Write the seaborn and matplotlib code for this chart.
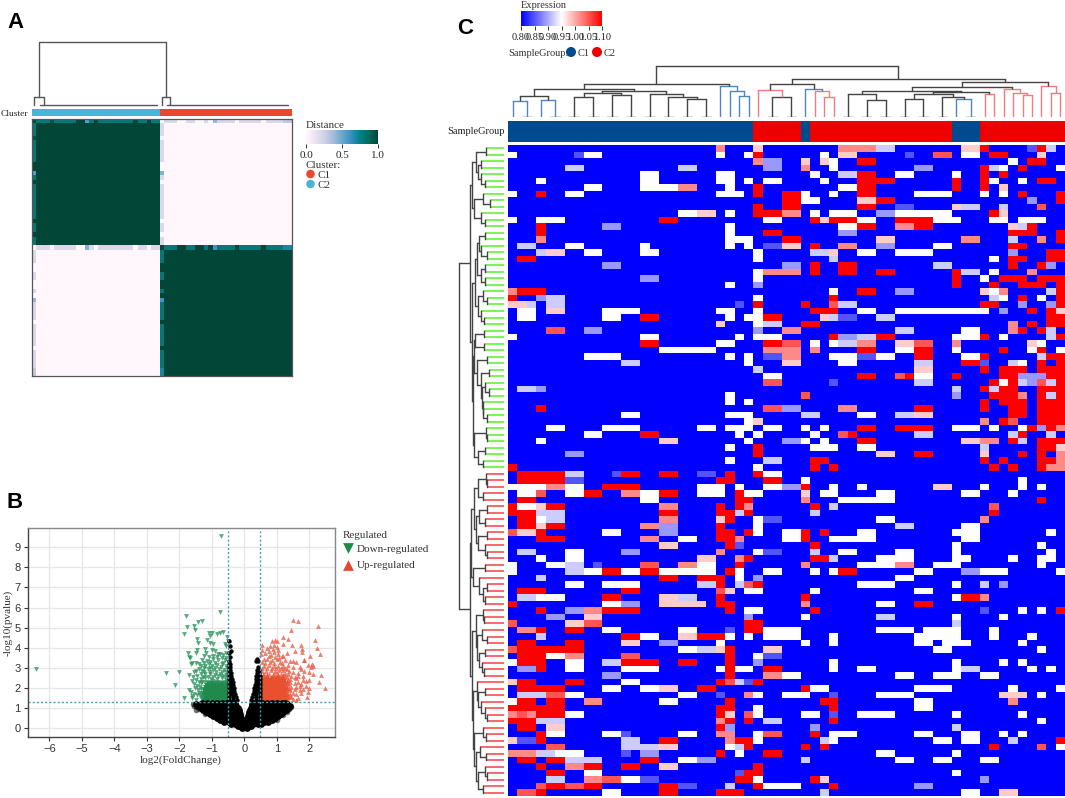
import numpy as np
import pandas as pd
import matplotlib
matplotlib.use("Agg")
import matplotlib.pyplot as plt
from matplotlib.colors import ListedColormap
import seaborn as sns

# ---- panel A: sample distance
CLUSTER_SIZES = [29, 30]
EDGE_C2 = [1, .8, .8, .8, .95, .8, .8, .8, .8, .8, 1, 1, .55, .8, 1, .8, .8, .8, .8, .8, .8, .8, .8, 1, .8, .8, 1, .8, .8]
EDGE_C1 = [1, .8, .8, .8, 1, 1, .8, .8, 1, 1, .8, 1, .6, .8, .8, .8, .8, 1, .8, .8, .8, .8, .8, 1, .8, .8, .8, .8, .7, .7]
DIST_TICKS = [0.0, 0.5, 1.0]
# sample positions of the legs and combs of the small dendrogram
A_BRACKETS = [(0.5, 2.66), (29.45, 31.4)]
A_COMBS = [(1.75, 28.4), (30.6, 58.2)]
A_HEIGHTS = [2, 10.3, 65.5]

# ---- panel B: volcano points
DOWN_CORE_Y = [1.4, 1.5, 1.6, 1.7, 1.8, 1.9, 2.0, 2.1, 2.2]
DOWN_CORE_X = [
    [-1.25, -1.13, -1.01, -0.89, -0.77, -0.65, -0.53],
    [-1.28, -1.15, -1.03, -0.91, -0.79, -0.67, -0.54],
    [-1.25, -1.13, -1.01, -0.89, -0.77, -0.65, -0.53],
    [-1.24, -1.15, -1.03, -0.91, -0.79, -0.67, -0.54],
    [-1.22, -1.13, -1.01, -0.89, -0.77, -0.65, -0.53],
    [-1.2, -1.08, -0.98, -0.88, -0.79, -0.67, -0.54],
    [-1.18, -1.05, -0.96, -0.85, -0.75, -0.65, -0.53],
    [-1.15, -1.0, -0.9, -0.8, -0.68, -0.54],
    [-1.1, -0.95, -0.82, -0.7, -0.56],
]
DOWN_X = [-0.72, -0.75, -1.79, -1.29, -1.43, -1.77, -1.55, -1.52, -1.86, -6.42, -2.42, -2.02, -2.13, -1.87,
          -1.1, -1.0, -1.05, -0.85, -0.75, -0.65, -1.45, -1.15, -1.05, -0.98, -1.42, -0.6, -0.52, -0.55, -0.5,
          -1.72, -1.7, -1.68, -1.5, -1.45, -1.2, -1.0, -0.9, -0.75, -0.65, -1.25, -1.1, -1.3, -1.4, -1.6, -1.65,
          -1.5, -1.35, -1.15, -1.05, -0.95, -0.8, -0.6, -0.55, -1.2, -1.0, -0.85, -0.7, -0.55, -1.4, -1.3, -1.12,
          -0.95, -0.78, -0.62, -1.7, -1.45, -1.35, -1.2, -1.05, -0.9, -0.75, -0.58, -1.48, -1.6, -1.35, -1.2,
          -1.02, -0.85, -0.68, -0.55, -1.45, -1.52, -1.42, -1.35, -1.65, -1.7, -1.6, -1.55, -1.45, -1.35, -1.5,
          -1.62, -1.4,
          -1.3, -1.2, -1.08, -0.98, -0.88, -0.78, -0.62, -0.52, -1.28, -1.12, -0.95, -0.8, -0.7, -0.6, -0.5,
          -1.25, -1.05, -0.88, -0.7, -0.55, -1.5, -1.25, -1.05, -0.9, -0.72, -0.52, -0.65, -0.9, -1.1, -1.25,
          -0.5, -0.7, -0.85, -0.98, -1.18, -0.82, -0.55, -1.55, -1.58, -1.4, -1.55, -1.38, -1.32, -1.38, -1.32, -1.3]
DOWN_Y = [9.57, 5.8, 5.6, 5.31, 5.28, 5.02, 5.07, 4.9, 4.7, 2.95, 2.75, 2.78, 2.17, 1.52,
          4.75, 4.75, 4.6, 4.7, 4.75, 4.8, 4.45, 4.4, 4.25, 4.2, 4.25, 4.2, 4.55, 4.1, 4.35,
          3.75, 3.55, 3.5, 3.75, 3.9, 3.95, 3.9, 3.85, 3.7, 3.65, 3.6, 3.55, 3.4, 3.2, 3.25, 3.2,
          3.25, 3.1, 3.35, 3.3, 3.45, 3.4, 3.4, 3.5, 3.1, 3.1, 3.15, 3.2, 3.1, 2.95, 2.85, 2.95,
          2.9, 2.95, 2.9, 2.65, 2.6, 2.7, 2.7, 2.7, 2.65, 2.7, 2.65, 2.4, 2.35, 2.45, 2.5,
          2.45, 2.45, 2.5, 2.4, 2.1, 2.0, 1.9, 2.25, 1.8, 1.9, 1.6, 1.7, 1.65, 1.5, 1.42,
          1.5, 1.75,
          2.3, 2.3, 2.3, 2.35, 2.3, 2.32, 2.32, 2.3, 2.55, 2.55, 2.55, 2.58, 2.6, 2.55, 2.55,
          2.8, 2.82, 2.8, 2.82, 2.8, 2.85, 3.0, 3.0, 3.0, 3.05, 3.0, 3.25, 3.25, 3.2, 3.25,
          3.3, 3.5, 3.55, 3.6, 3.75, 3.7, 3.75, 2.8, 2.55, 2.3, 2.2, 2.05, 1.95, 1.65, 1.75, 1.55]

UP_CORE_Y = [1.4, 1.5, 1.6, 1.7, 1.8, 1.9, 2.0, 2.1, 2.2, 2.3, 2.4, 2.5, 2.6]
UP_CORE_X = [
    [0.56, 0.68, 0.8, 0.92, 1.04, 1.16, 1.28],
    [0.54, 0.66, 0.78, 0.9, 1.02, 1.14, 1.26],
    [0.56, 0.68, 0.8, 0.92, 1.04, 1.16, 1.3],
    [0.54, 0.66, 0.78, 0.9, 1.02, 1.14, 1.26],
    [0.56, 0.68, 0.8, 0.92, 1.04, 1.16, 1.28],
    [0.54, 0.66, 0.78, 0.9, 1.02, 1.14, 1.25],
    [0.56, 0.68, 0.8, 0.92, 1.04, 1.16, 1.3],
    [0.54, 0.66, 0.78, 0.9, 1.02, 1.14, 1.24],
    [0.56, 0.68, 0.8, 0.92, 1.04, 1.18],
    [0.54, 0.66, 0.78, 0.9, 1.02, 1.15, 1.3],
    [0.56, 0.68, 0.8, 0.95, 1.1, 1.22],
    [0.54, 0.66, 0.82, 0.98, 1.12],
    [0.56, 0.7, 0.88, 1.05, 1.2],
]
UP_X = [1.49, 1.64, 2.26, 1.45, 2.19, 2.23, 2.33, 2.02, 1.84, 2.48, 2.36, 2.31, 2.12, 2.07,
        0.55, 0.55, 0.52, 0.7, 0.8, 0.85, 0.95, 1.0, 0.9, 1.0, 1.2, 1.18, 1.35, 1.48, 1.75, 1.78, 1.78, 1.55,
        1.3, 1.15, 1.05, 0.9, 0.75, 0.6, 0.85, 1.0, 1.1, 1.25, 1.4, 1.5, 1.6, 1.85, 1.95, 2.05, 2.1, 1.7, 1.5,
        1.35, 1.2, 1.05, 0.9, 0.75, 0.6, 1.98, 1.85, 1.65, 1.5, 1.38, 1.8, 1.6, 1.45, 1.35, 2.0, 1.9, 1.75, 1.55,
        1.42, 2.0, 1.8, 1.7, 1.55, 1.45, 1.95, 1.75, 1.6, 1.5, 1.4, 1.92, 1.65, 1.5, 1.4, 1.35, 1.6,
        1.35, 1.42, 1.3, 1.25, 0.62, 0.75, 0.9, 1.0, 1.12, 1.25, 0.55, 0.68, 0.82, 0.95, 1.08, 1.2, 1.3,
        0.55, 0.7, 0.85, 0.98, 1.12, 1.25, 0.65, 0.78, 0.92, 1.15, 0.55, 0.7, 0.93, 1.08, 0.82, 1.2, 0.65,
        0.88, 0.75, 1.05, 1.65, 1.7, 1.35, 1.38, 1.32, 1.42, 1.45, 1.8, 1.6, 1.9, 1.55, 1.65, 1.75]
UP_Y = [5.4, 5.35, 5.07, 4.87, 4.4, 3.97, 3.71, 3.6, 3.41, 2.0, 2.63, 2.3, 2.7, 3.2,
        4.15, 3.9, 3.7, 4.0, 4.1, 4.35, 4.4, 4.35, 4.15, 4.05, 4.2, 4.55, 4.45, 4.15, 4.15, 3.95, 3.8, 3.85,
        3.75, 3.6, 3.7, 3.8, 3.6, 3.45, 3.4, 3.45, 3.3, 3.4, 3.35, 3.35, 3.3, 3.4, 3.15, 3.05, 3.1, 3.05, 3.05,
        3.15, 3.1, 3.1, 3.1, 3.15, 3.1, 2.8, 2.85, 2.75, 2.8, 2.85, 2.6, 2.5, 2.6, 2.7, 2.4, 2.35, 2.2, 2.25,
        2.3, 2.0, 1.95, 1.9, 1.95, 2.05, 1.8, 1.75, 1.7, 1.75, 1.9, 1.55, 1.5, 1.45, 1.6, 1.4, 1.4,
        2.4, 2.45, 2.55, 2.62, 2.7, 2.72, 2.7, 2.75, 2.72, 2.75, 2.85, 2.85, 2.88, 2.85, 2.9, 2.88, 2.95,
        3.0, 3.0, 3.0, 2.98, 3.0, 3.0, 3.25, 3.3, 3.25, 3.25, 3.3, 3.45, 3.55, 3.5, 3.65, 3.6, 3.75,
        3.95, 3.85, 3.9, 2.3, 2.1, 2.2, 2.0, 1.8, 1.72, 1.55, 2.4, 2.05, 2.1, 2.55, 2.6, 2.95]

NS_ROW_Y = [0.0, 0.1, 0.2, 0.3, 0.4, 0.5, 0.6, 0.7, 0.8, 0.9, 1.0, 1.1, 1.2, 1.28]
NS_ROW_X = [
    [-0.08, 0.08],
    [-0.2, -0.07, 0.07, 0.22],
    [-0.42, -0.28, -0.14, 0, 0.14, 0.28, 0.42, 0.52],
    [-0.62, -0.48, -0.32, -0.16, 0, 0.16, 0.32, 0.48, 0.62, 0.72],
    [-0.75, -0.6, -0.45, -0.3, -0.15, 0, 0.15, 0.3, 0.45, 0.6, 0.72, 0.84],
    [-0.85, -0.7, -0.55, -0.4, -0.25, -0.1, 0.1, 0.25, 0.4, 0.55, 0.7, 0.85, 0.95],
    [-0.95, -0.8, -0.65, -0.5, -0.35, -0.2, -0.12, 0.12, 0.2, 0.35, 0.5, 0.65, 0.8, 0.95, 1.05],
    [-1.05, -0.9, -0.75, -0.6, -0.45, -0.3, -0.14, 0.14, 0.3, 0.45, 0.6, 0.75, 0.9, 1.02, 1.12],
    [-1.17, -1.0, -0.85, -0.7, -0.55, -0.4, -0.25, -0.15, 0.15, 0.25, 0.4, 0.55, 0.7, 0.85, 1.0, 1.1, 1.2],
    [-1.27, -1.1, -0.95, -0.8, -0.65, -0.5, -0.35, -0.18, 0.18, 0.35, 0.5, 0.65, 0.8, 0.95, 1.1, 1.27],
    [-1.35, -1.2, -1.05, -0.9, -0.75, -0.6, -0.45, -0.3, -0.2, 0.2, 0.3, 0.45, 0.6, 0.75, 0.9, 1.05, 1.2, 1.33],
    [-1.45, -1.3, -1.15, -1.0, -0.85, -0.7, -0.55, -0.4, -0.25, 0.25, 0.4, 0.55, 0.7, 0.85, 1.0, 1.15, 1.3, 1.42],
    [-1.5, -1.35, -1.2, -1.05, -0.9, -0.75, -0.6, -0.45, -0.3, 0.25, 0.4, 0.55, 0.7, 0.85, 1.0, 1.15, 1.3],
    [-1.3, -1.15, -1.0, -0.85, -0.7, -0.55, -0.4, -0.28, 0.28, 0.4, 0.55, 0.7, 0.85, 1.0, 1.15, 1.25],
]
# the two narrow arms of the V above the p cut
NS_ARM_Y = [1.4, 1.55, 1.7, 1.85, 2.0, 2.15, 2.3, 2.45, 2.6, 2.75, 2.9, 3.05, 3.2, 3.35, 3.42, 3.55, 3.75, 3.85, 4.1, 4.35]
NS_ARM_X = [
    [-0.47, -0.36, -0.24, 0.47, 0.36, 0.22],
    [-0.47, -0.36, -0.27, 0.47, 0.36, 0.25],
    [-0.47, -0.38, -0.29, 0.47, 0.37, 0.27],
    [-0.47, -0.39, -0.31, 0.47, 0.38, 0.29],
    [-0.47, -0.4, -0.33, 0.47, 0.39, 0.31],
    [-0.47, -0.4, -0.34, 0.47, 0.4, 0.33],
    [-0.47, -0.41, -0.36, 0.47, 0.41, 0.35],
    [-0.47, -0.41, -0.37, 0.47, 0.41, 0.36],
    [-0.47, -0.42, 0.47, 0.41, 0.37],
    [-0.47, -0.42, 0.46, 0.4],
    [-0.47, -0.43, 0.44, 0.39],
    [-0.47, -0.44, 0.43],
    [-0.47, -0.44],
    [-0.46, 0.42, 0.37],
    [0.38],
    [-0.45],
    [-0.47],
    [-0.42],
    [-0.45],
    [-0.47],
]
NS_LOOSE_X = [-1.55, -1.4, -1.5, -1.2, -1.58, 1.45, 1.3, 1.0, 0.95, 1.2, 1.38]
NS_LOOSE_Y = [1.1, 0.95, 0.9, 0.7, 1.2, 1.05, 0.8, 0.42, 0.45, 0.65, 0.95]

VOLCANO_XTICKS = [-6, -5, -4, -3, -2, -1, 0, 1, 2]
VOLCANO_YTICKS = [0, 1, 2, 3, 4, 5, 6, 7, 8, 9]
LFC_CUTS = [-0.49, 0.49]
P_CUT = 1.3

# ---- panel C: expression heatmap, one string per gene, cells not listed are 0.80
CELL_VALUES = {"r": 1.10, "o": 1.05, "p": 1.02, "q": 0.98, "w": 0.95, "l": 0.92, "m": 0.89, "n": 0.85}
N_SAMPLES = 59
HEAT_ROWS = [
    "22p 26q 35-36p 37-38p 39-40l 48-49q 50r 55n 56r 57l",
    "0w 7n 8-9w 22w 25w 26r 33w 35-36q 42n 45-46o 48-49w 51-52r 56q",
    "26p 27-28m 31q 33q 34w 37-38r 53w 55-56r",
    "6-7l 18-19l 27-28m 31p 34w 43-44m 50r 51l 52w 54r 58w",
    "14-15w 22-23w 32w 35-36l 37-38r 41-42w 47w 50r 52r",
    "3w 14-15w 22-23w 25w 27-28w 33w 37-40r 47r 50r 51w 54w 56-57r",
    "8-9w 14-17w 18-19p 23w 26r 35-36w 37-38r 47r 50r 52q",
    "0w 3r 6-7w 22-24w 26r 29-30r 31w 34w 37-38r 43-46w 50w 52w 54r 58r",
    "29-30r 31-32w 37-38q 39-40r 55m 58r",
    "26r 29-30r 37-38r 41-42n 47q 48-49l 52l 56o",
    "18-19w 20-21q 23w 26-28r 29-30p 32w 34-36w 39-40m 41-46w 51r 52q",
    "0w 3-5w 16-17r 27-28w 32r 33q 34-36r 37-38w 41-44r 45-47w 51-52w 54-56w",
    "3r 10-11m 23w 35-36w 37-38r 41-42p 43-44r 53q 54l 55r",
    "3r 23w 27-28r 35-36m 53-55r 58r",
    "3p 23-25w 29-30r 39-40q 48-49p 53l 56p 58r",
    "1-2l 6-7w 14w 23w 25w 27-28n 29-30q 32r 35-36p 39-40m 45-46w 53-54r",
    "3l 4-5q 8-9w 14-15w 26w 32-33l 34q 37-38w 41-44w 53m 57-58r",
    "1-2r 26w 34l 51w 53-54r 57-58r",
    "10-11m 29-30m 32r 35-36r 45-46l 53r 56r 57m",
    "26w 27-30p 32r 35-36r 39-40r 47r 48-49l 51w 55p",
    "14-15m 26w 47r 50w 52-54r 56-58r",
    "23w 26m 47r 51r 54-56r 58r",
    "0p 1-3r 34w 37-38r 41-42m 50q 51w 52p 57l 58r",
    "0r 3m 4-5l 26w 34r 51l 52w 54r 56w 58r",
    "0-1q 2l 4-5l 24n 26r 31r 34o 35-36l 50-51r 54m 57m 58r",
    "1-2w 4-5q 10-13w 22-23w 26w 32-34r 37-38w 41-50w 52m 55r 57r 58q",
    "1-2w 10-11w 14-15r 23w 25-26w 27-28r 33q 34l 35-36n 39-40l 57-58r",
    "22q 26w 27-28l 31-32r 53p 55r 57-58r",
    "4-5o 8-9m 26m 29-30p 41-42l 48-49w 53p 54r 56r 57l",
    "0w 14-15w 24w 26-28w 34r 35-36m 37-38l 39-40r 47-49w 50r 52w 57l 58r",
    "14-15r 22-23w 27-28r 29-30o 32w 34w 35-36l 37-38p 41-42q 43-44o 47p 55q 56w",
    "16-21w 27-28p 29-30p 32p 37-38r 41-42w 43-44r 47w 52r 55w 56r 58w",
    "8-11w 23w 25w 27-28n 29-30p 34-36w 37-38n 39-40w 43-44r 48-49w 50r 56l 57-58r",
    "12-13l 25w 29-30q 35-36w 43-44l 48-49r 50n 53l 54w 56r 58r",
    "26l 43-44q 50r 52-54r 56-58r",
    "27-28w 37-38r 41o 42r 43-44w 47r 52-53r 54-56m 57-58r",
    "27-28o 34n 43-44l 51r 52w 53r 54l 55m 56o 57l 58r",
    "1-2l 3m 47l 50r 51l 52-53r 56-58r",
    "23w 31o 47m 51-53r 54p 56r 57l 58r",
    "23w 25w 50r 52-54r 56-58r",
    "3r 27-28o 29-30m 35-36p 43-44r 50r 53-54r 56-58r",
    "12-13w 23-25w 31-32l 37-38w 41-42l 43-44q 53-54r 56-58r",
    "25w 26q 50p 52r 53o 56-58r",
    "4-5w 10-13w 20-21w 23-25w 27-28w 31w 33w 37-38r 41-44r 47-49w 51w 54w 55r 56m 57r 58p",
    "8-9w 14-15r 24w 26w 32w 35o 36r 43-44l 53l 54r 57l",
    "3w 16-17q 25w 29-30m 31w 33w 37-38r 48-49q 50-51p 53r 54l 56-58r",
    "23w 26r 32-34w 37-38w 50l 56-57r 58q",
    "6-7m 26r 39-40q 43-44r 50q 54r 56r 58p",
    "23w 27-28l 32-33r 50r 52r 56-57r 58p",
    "0r 26w 32r 34r 51r 53r 56r 57p 58p",
    "1-5r 6-7l 11n 12-13r 16-17r 20-21n 23r 26r 27-28w",
    "1-5r 6-7n 22-23r 27-28r 31w 54w",
    "0-3w 4-5p 6-7w 10-13r 20-22w 24w 27-28w 29-30m 31r 34w 37w 45-46q 50w 54w 56w",
    "1-2w 3o 6-7w 8-9r 12-13p 14-15w 16-17r 20-22w 24r 25-26w 31q 33-34w 39-40w 48-49w 53w",
    "1-2r 14-15w 24-25r 31p 35-40w 56r",
    "0r 1-2w 3q 4-5r 16-17p 22r 24r 25p 32r 34l 51o",
    "0-2r 3-5l 16-17r 22-23r 24l 25r 32l 51r",
    "1-2r 3w 4-5l 16-17p 22q 23r 26w 27-28n 39-40w 50p",
    "1-2r 3q 4-5r 14-15p 16-17m 22r 26w 41-42l 48-49w",
    "0o 1-2q 3r 10-11w 16-17m 22-23r 25r 26w 29-30w 31r 33r 37-38w 47-49w 57w",
    "3-5r 14-15p 18-19w 22-23r 24p 29-30w 31r 34-38w 48-49w",
    "16-17q 23r 24n 32r 47w 56w",
    "1-2l 6-7w 12-13m 22p 26w 27-28n 32l 35-36w 41-42w 47w 57w",
    "3w 6-7w 20-21q 24p 25r 32-33r 34l 39-42w 47-48w 53w 56w 57w",
    "0w 4-5w 6-7l 9n 14-15o 18-19p 20-21w 24r 31p 37-40w 41-42p 45-47w 56w",
    "0w 6-7l 8-9w 10-11r 12-13w 14-15r 16-21w 23r 24w 27-28w 32w 34w 35-36r 43-44w 48-49m 50-52w 58w",
    "3l 16-17r 20-22r 24w 26m 41-42w",
    "6-7w 10-13w 20-21l 22r 24l 25o 26r 37-40w 47w 50l 52m",
    "1-3r 12-13r 22o 23q 25-26w 32w 43-44w",
    "1-2l 3-5w 10-11r 16-17q 18-19l 22r 31r 47w 48-49r 50p",
    "0r 10-11w 12-13m 16-20q 22-23r 31p 39-40w 43-44r",
    "3r 6-7m 8-9p 10-13r 23r 25-26w 32r 50n 54w 56w 58r",
    "4-5m 8-9q 25m 31w 39-40l 47w 52w",
    "0o 6-7q 8-9o 25-26r 47l",
    "1-2p 3r 6-7r 10-11w 18-19w 23n 25-26r 27-30w 39-42w 44-47w 51w",
    "3l 12-13r 14-15w 18-19q 20-22r 23w 25w 27-30w 34w 43-47w 51w 55w",
    "1-2r 6-7r 12-13q 16-17m 22w 31w 34w 43-44w 46-48w 54w",
    "0o 1-7r 18-19w 20-21l 22q 23r 27-28q 45-46w 56w",
    "1-3r 4-5w 6-7p 12-13o 23r 26w 27-28n",
    "0w 1-3r 6-7w 10-11l 12-15r 18-19r 23r 26m 34w 47w 52w 54w",
    "1-2m 3r 6-7w 12-15w 22w 23r 24-25w 27-28r 34w 37-38w 47w 48-49l 55w 57w",
    "10-11m 23r 27-28p 29-30w 41-42w 45-47w 50-51w",
    "0q 1-2r 6-7r 12-13w 22r 23o 24l 25n 26r",
    "1-5r 10-11w 14-15w 16-17q 20-21r 31r 32-33w 43-46w 53w 58w",
    "1-3l 4-5o 6-7w 18-19w 22n 25p 26w 29-31w 34n 39-42w 52-54q 56w",
    "0w 1-2r 4-5r 8-9p 16-17w 23r 33-34r 43-44w 53p",
    "0-5r 22-23r 26w 34r 43-44w",
    "0p 1o 2p 3-5r 6-7w 22r 23q 25o 26w 31-32w 34n 37-40w 47w 54w",
    "0-2r 3-5l 22p 23r 25r 27-28l 34r 56w",
    "1-2r 4-5q 22r 23m 32m 47l",
    "3r 4-5w 10-11w 12n 18-19w 22-23p 26w 27-28o 32r 34-36w 43-44w 48-49w 52w 54w",
    "0q 1-2n 3r 12-13l 16-17r 23p 24-25r 26w 33l 34w 45-46w 48-49w 53l 58r",
    "4-5o 12-15l 16-17q 23w 24l 25r 31r 33r 51r 56o 58w",
    "0-2p 3-4l 5-7w 12n 14-15m 22r 24w 27-28r 39-40w 47w",
    "1-2r 4-5r 6-9l 14-15r 18-19w 20-21m 31l 41-42w 45-46w 50-51w",
    "3r 6-7p 8-9r 12-13r 16-17q 26r",
    "4-5r 8-9w 24n 25-26r 47w",
    "4-5l 8-9p 10-11o 12-13w 14-15n 24-25r 26w 32r 33q 50m",
    "3o 4-5r 6-7o 8-9r 16-17r 18-19n 23l 26r 27-30w 34r 43-44m",
    "1-2o 3r 10-11w 16-17r 22-24r 33l 48-49w 52-53q",
]
# 0 = C1, 1 = C2, as runs over the sample order
GROUP_RUNS = [(26, 0), (5, 1), (1, 0), (15, 1), (3, 0), (9, 1)]
EXPR_TICKS = [0.80, 0.85, 0.90, 0.95, 1.00, 1.05, 1.10]

# dendrograms as nested (height, left, right); an int is a leaf
SAMPLE_TREE = (155,
    (100,
        (84,
            (64, (50, 0, (2, 1, 2)), (52, 3, (2, 4, 5))),
            (80,
                (74, (60, (2, 6, 7), (2, 8, 9)), (67, (2, 10, 11), (2, 12, 13))),
                (71, (2, 14, 15), (62, (2, 16, 17), (56, (2, 18, 19), (2, 20, 21)))))),
        (94, 22, (80, 23, (65, 24, 25)))),
    (115,
        (100,
            (82, 26, (60, (2, 27, 28), (2, 29, 30))),
            (86, 31, (79, 32, (60, 33, 34)))),
        (105,
            (90,
                (80,
                    (69, (2, 35, 36), (52, (2, 37, 38), (2, 39, 40))),
                    (77,
                        (69,
                            (56, (2, 41, 42), (2, 43, 44)),
                            (61, (2, 45, 46), (54, 47, (2, 48, 49)))),
                        (69, 50, 51))),
                (84, 52, (74, 53, (67, 54, 55)))),
            (94, 56, (74, 57, 58)))))

GENE_TREE = (135,
    (102,
        (95,
            (84, (55, 0, 1), (77, (69, 2, 3), (69, 4, (57, 5, 6)))),
            (89, (63, 7, (43, 8, 9)), (69, 10, (57, 11, 12)))),
        (97,
            (87,
                (82,
                    (75, (57, 13, 14), (69, 15, (50, 16, 17))),
                    (69, (57, 18, 19), (57, 20, 21))),
                (79, (64, 22, (50, 23, 24)), (69, 25, (59, 26, 27)))),
            (92,
                (89,
                    (87, (59, 28, 29), (59, 30, 31)),
                    (82,
                        (50, 32, 33),
                        (69,
                            (44, 34, 35),
                            (67, (57, 36, (44, 37, 38)), (64, 39, (62, 40, (52, 41, 42))))))),
                (90,
                    (54, 43, (52, 44, 45)),
                    (79, (57, 46, 47), (64, 48, 49)))))),
    (102,
        (100,
            (90,
                (79, (55, 50, (50, 51, 52)), (62, 53, 54)),
                (85,
                    (75, (50, 55, 56), (57, 57, 58)),
                    (79, (50, 59, 60), (57, 61, (50, 62, 63))))),
            (94, (57, 64, 65), (74, 66, (64, (50, 67, 68), (57, 69, 70))))),
        (97,
            (85,
                (64, 71, (59, 72, 73)),
                (82,
                    (65, 74, (50, 75, 76)),
                    (75, (57, 77, 78), (67, 79, (59, 80, 81))))),
            (92,
                (82, 82, (77, (57, 83, 84), (70, 85, (57, 86, (50, 87, 88))))),
                (90,
                    (64, 89, (55, 90, 91)),
                    (85,
                        (72, 92, (55, 93, 94)),
                        (79, (57, 95, (52, 96, 97)), (64, 98, 99))))))))

W, H = 1065, 798
SERIF = ["Liberation Serif", "DejaVu Serif"]
SANS = ["Liberation Sans", "DejaVu Sans"]
C1_BLUE, C2_RED = "#004b8d", "#ee0000"
TREE_GRAY = "#444444"


def box(fig, left, top, right, bottom):
    # 画像のピクセル座標で軸を置く
    return fig.add_axes([left / W, 1 - bottom / H, (right - left) / W, (bottom - top) / H])


def parse_rows(rows):
    mat = np.full((len(rows), N_SAMPLES), 0.80)
    for i, row in enumerate(rows):
        for tok in row.split():
            code = tok[-1]
            span = tok[:-1].split("-")
            mat[i, int(span[0]):int(span[-1]) + 1] = CELL_VALUES[code]
    return mat


def draw_tree(ax, node, stem_color, tint_merge=False, vertical=True, lw=0.9, stem_lw=None):
    # returns position and height of a node
    if isinstance(node, int):
        return node + 0.5, 0
    h, left, right = node
    pl, hl = draw_tree(ax, left, stem_color, tint_merge, vertical, lw, stem_lw)
    pr, hr = draw_tree(ax, right, stem_color, tint_merge, vertical, lw, stem_lw)
    leaf_kid = left if isinstance(left, int) else right if isinstance(right, int) else None
    bar = TREE_GRAY
    if tint_merge and leaf_kid is not None and h > 6:
        bar = stem_color(leaf_kid)
    for kid, p, base in ((left, pl, hl), (right, pr, hr)):
        leg = bar
        leg_lw = lw
        if isinstance(kid, int):
            leg = stem_color(kid) if (not tint_merge or h > 6) else TREE_GRAY
            leg_lw = stem_lw or lw
        if vertical:
            ax.plot([p, p], [base, h], color=leg, lw=leg_lw, solid_capstyle="butt")
        else:
            ax.plot([base, h], [p, p], color=leg, lw=leg_lw, solid_capstyle="butt")
    if vertical:
        ax.plot([pl, pr], [h, h], color=bar, lw=lw, solid_capstyle="projecting")
    else:
        ax.plot([h, h], [pl, pr], color=bar, lw=lw, solid_capstyle="projecting")
    return (pl + pr) / 2, h


def draw_panel_a(fig, over):
    n1, n2 = CLUSTER_SIZES
    n = n1 + n2
    dist = np.zeros((n, n))
    dist[:n1, :n1] = 1
    dist[n1:, n1:] = 1
    edge1, edge2 = np.array(EDGE_C2), np.array(EDGE_C1)
    dist[0, :n1] = dist[:n1, 0] = edge1
    dist[n1, n1:] = dist[n1:, n1] = edge2
    dist[0, n1:] = dist[n1:, 0] = 1 - edge2
    dist[n1, :n1] = dist[:n1, n1] = 1 - edge1

    ax = box(fig, 32, 118.5, 292, 376.5)
    cax = box(fig, 306, 130, 378, 144)
    sns.heatmap(dist, ax=ax, cmap="PuBuGn", vmin=0, vmax=1, xticklabels=False, yticklabels=False,
                cbar_ax=cax, cbar_kws=dict(orientation="horizontal", ticks=DIST_TICKS))
    for sp in ax.spines.values():
        sp.set_visible(True)
        sp.set_color("#555555")
        sp.set_linewidth(0.9)
    cax.tick_params(labelsize=8, length=3, width=0.7, pad=2, color="#333333")
    cax.set_xticklabels(["0.0", "0.5", "1.0"], family=SERIF)
    ax.collections[0].colorbar.outline.set_visible(False)

    bar = box(fig, 32, 109, 292, 116)
    groups = np.array([[0] * n1 + [1] * n2])
    sns.heatmap(groups, ax=bar, cmap=ListedColormap(["#45b7d2", "#e8482f"]), cbar=False,
                xticklabels=False, yticklabels=False)

    # dendrogram; the two big clusters are near flat combs
    tree = box(fig, 32, 40, 292, 107)
    tree.set_xlim(0, n)
    tree.set_ylim(0, 67)
    tree.axis("off")
    low, mid, top = A_HEIGHTS
    tops = []
    for (a, b), (c0, c1) in zip(A_BRACKETS, A_COMBS):
        tree.plot([a, a, b, b], [low, mid, mid, low], color="#555555", lw=1.0)
        tree.plot([c0, c1], [low, low], color="#555555", lw=1.0)
        tops.append((a + b) / 2)
    tree.plot([tops[0], tops[0], tops[1], tops[1]], [mid, top, top, mid], color="#555555", lw=1.0)

    over.text(28.5, 114, "Cluster", ha="right", va="center", fontsize=6.8, family=SERIF)
    over.text(306, 125, "Distance", ha="left", va="center", fontsize=8, family=SERIF, color="#333333")
    over.text(306, 165, "Cluster:", ha="left", va="center", fontsize=8, family=SERIF, color="#333333")
    over.scatter([310.5, 310.5], [174, 184], s=38, c=["#e8482f", "#45b7d2"], linewidths=0)
    over.text(317, 175, "C1", ha="left", va="center", fontsize=8, family=SERIF, color="#333333")
    over.text(317, 185, "C2", ha="left", va="center", fontsize=8, family=SERIF, color="#333333")


def core_frame(row_y, row_x):
    xs = [x for yv, row in zip(row_y, row_x) for x in row]
    ys = [yv for yv, row in zip(row_y, row_x) for x in row]
    return pd.DataFrame({"x": xs, "y": ys})


def draw_panel_b(fig, over):
    ax = box(fig, 27.7, 528, 335.3, 737)
    ax.set_facecolor("white")
    ax.grid(True, color="#e6e6e6", lw=0.9)
    ax.set_axisbelow(True)

    down_core = core_frame(DOWN_CORE_Y, DOWN_CORE_X)
    up_core = core_frame(UP_CORE_Y, UP_CORE_X)
    ns_body = core_frame(NS_ROW_Y, NS_ROW_X)
    ns_arms = core_frame(NS_ARM_Y, NS_ARM_X)

    sns.scatterplot(data=down_core, x="x", y="y", ax=ax, marker="v", color="#1f8a4c", s=24, linewidth=0)
    sns.scatterplot(x=DOWN_X, y=DOWN_Y, ax=ax, marker="v", color="#2f9460", s=12, linewidth=0, alpha=0.8)
    sns.scatterplot(data=up_core, x="x", y="y", ax=ax, marker="^", color="#e8502f", s=24, linewidth=0)
    sns.scatterplot(x=UP_X, y=UP_Y, ax=ax, marker="^", color="#e8604a", s=12, linewidth=0, alpha=0.8)
    sns.scatterplot(x=NS_LOOSE_X, y=NS_LOOSE_Y, ax=ax, marker="o", color="black", s=16, linewidth=0, alpha=0.55)
    sns.scatterplot(data=ns_body, x="x", y="y", ax=ax, marker="o", color="black", s=24, linewidth=0)
    sns.scatterplot(data=ns_arms, x="x", y="y", ax=ax, marker="o", color="black", s=10, linewidth=0)

    for cut in LFC_CUTS:
        ax.axvline(cut, color="#4a9fb5", lw=1.0, ls=(0, (1.5, 1.5)))
    ax.axhline(P_CUT, color="#4a9fb5", lw=1.0, ls=(0, (1.5, 1.5)))

    ax.set_xlim(-6.67, 2.8)
    ax.set_ylim(-0.43, 9.95)
    ax.set_xticks(VOLCANO_XTICKS)
    ax.set_yticks(VOLCANO_YTICKS)
    ax.tick_params(labelsize=8, length=3, width=0.8, pad=2, color="#333333", labelcolor="#333333")
    for lab in ax.get_xticklabels() + ax.get_yticklabels():
        lab.set_family(SANS)
    ax.set_xlabel("")
    ax.set_ylabel("")
    for name, sp in ax.spines.items():
        sp.set_visible(True)
        sp.set_color("#444444" if name in ("left", "bottom") else "#888888")
        sp.set_linewidth(1.0)

    over.text(181, 760, "log2(FoldChange)", ha="center", va="center", fontsize=8, family=SERIF, color="#333333")
    over.text(8, 623, "-log10(pvalue)", ha="center", va="center", rotation=90, fontsize=8, family=SERIF, color="#333333")
    over.text(343, 535, "Regulated", ha="left", va="center", fontsize=8, family=SERIF, color="#333333")
    over.scatter([348], [548], s=60, marker="v", c="#1f8a4c", linewidths=0)
    over.scatter([348], [565], s=60, marker="^", c="#e8482f", linewidths=0)
    over.text(357, 550, "Down-regulated", ha="left", va="center", fontsize=8, family=SERIF, color="#333333")
    over.text(357, 566, "Up-regulated", ha="left", va="center", fontsize=8, family=SERIF, color="#333333")


def draw_panel_c(fig, over):
    expr = parse_rows(HEAT_ROWS)
    groups = np.concatenate([[g] * size for size, g in GROUP_RUNS])

    ax = box(fig, 508, 145, 1065, 796)
    cax = box(fig, 521, 11, 602, 26)
    sns.heatmap(expr, ax=ax, cmap="bwr", vmin=0.80, vmax=1.10, xticklabels=False, yticklabels=False,
                cbar_ax=cax, cbar_kws=dict(orientation="horizontal", ticks=EXPR_TICKS, format="%.2f"))
    cax.tick_params(labelsize=7.5, length=3, width=0.7, pad=2, color="#333333")
    for lab in cax.get_xticklabels():
        lab.set_family(SERIF)
    ax.collections[0].colorbar.outline.set_visible(False)

    bar = box(fig, 508, 121, 1065, 142)
    sns.heatmap(groups[np.newaxis, :], ax=bar, cmap=ListedColormap([C1_BLUE, C2_RED]), cbar=False,
                xticklabels=False, yticklabels=False)

    col_tree = box(fig, 508, 60, 1065, 117.3)
    col_tree.set_xlim(0, N_SAMPLES)
    col_tree.set_ylim(0, 172)
    col_tree.axis("off")
    tint = {0: "#4f86bd", 1: "#f27b7b"}
    draw_tree(col_tree, SAMPLE_TREE, lambda k: tint[groups[k]], tint_merge=True, vertical=True, lw=1.0)

    row_tree = box(fig, 455, 145, 504, 796)
    row_tree.set_xlim(147, 0)
    row_tree.set_ylim(len(HEAT_ROWS), 0)
    row_tree.axis("off")
    draw_tree(row_tree, GENE_TREE, lambda k: "#7cf05a" if k < 50 else "#f8686c", vertical=False, lw=1.0, stem_lw=1.4)

    over.text(505, 132, "SampleGroup", ha="right", va="center", fontsize=7.5, family=SERIF, color="#222222")
    over.text(521, 5, "Expression", ha="left", va="center", fontsize=7.5, family=SERIF, color="#333333")
    over.text(508, 53.5, "SampleGroup:", ha="left", va="center", fontsize=7.5, family=SERIF, color="#333333")
    over.scatter([571, 597], [52, 52], s=52, c=[C1_BLUE, C2_RED], linewidths=0)
    over.text(578, 54, "C1", ha="left", va="center", fontsize=7.5, family=SERIF, color="#333333")
    over.text(604, 54, "C2", ha="left", va="center", fontsize=7.5, family=SERIF, color="#333333")


def main():
    sns.set_theme(style="white")
    plt.rcParams["font.family"] = SERIF
    plt.rcParams["axes.unicode_minus"] = True
    plt.rcParams["xtick.bottom"] = True
    plt.rcParams["ytick.left"] = True

    fig = plt.figure(figsize=(W / 100, H / 100), dpi=100)
    fig.patch.set_facecolor("white")

    # テキストと凡例用のピクセル座標オーバーレイ
    over = fig.add_axes([0, 0, 1, 1], zorder=10)
    over.set_xlim(0, W)
    over.set_ylim(H, 0)
    over.axis("off")
    over.patch.set_alpha(0)

    draw_panel_a(fig, over)
    draw_panel_b(fig, over)
    draw_panel_c(fig, over)

    for label, x, y in (("A", 7, 23), ("B", 6, 503), ("C", 457, 28)):
        over.text(x, y, label, ha="left", va="center", fontsize=16, fontweight="bold", family=SANS, color="black")

    fig.savefig("out.png", dpi=100)


if __name__ == "__main__":
    main()
